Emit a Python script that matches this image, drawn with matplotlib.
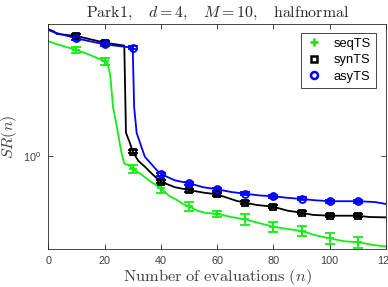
import matplotlib
matplotlib.use("Agg")
import matplotlib.pyplot as plt
import numpy as np
from matplotlib.lines import Line2D
from matplotlib.ticker import FixedLocator, NullLocator

# data (SR(n) vs number of evaluations)
seq_x = [0, 3, 10, 14, 20, 21, 22, 23, 24, 25, 26, 27, 28.5, 30, 33, 36, 40, 43,
         45.5, 48, 50, 53, 56, 60, 65, 70, 75, 80, 85, 90, 95, 100, 105, 110, 115, 120]
seq_y = [6.4, 6.1, 5.55, 5.2, 4.64, 4.5, 3.7, 2.2, 1.75, 1.35, 1.05, 0.88, 0.86, 0.806,
         0.74, 0.665, 0.59, 0.52, 0.49, 0.455, 0.44, 0.41, 0.395, 0.39, 0.37, 0.356,
         0.335, 0.316, 0.305, 0.295, 0.275, 0.262, 0.25, 0.246, 0.236, 0.229]

syn_x = [0, 2, 3, 10, 20, 27, 27.6, 29, 30, 32, 34.3, 37, 40, 45, 50, 55, 60, 67, 70,
         74, 80, 85, 90, 94, 100, 110, 114, 120]
syn_y = [7.77, 7.5, 7.2, 6.97, 6.25, 5.96, 1.45, 1.23, 1.067, 0.92, 0.837, 0.74, 0.656,
         0.6, 0.573, 0.55, 0.534, 0.48, 0.467, 0.45, 0.437, 0.41, 0.397, 0.383, 0.378,
         0.378, 0.37, 0.368]

asy_x = [0, 2, 10, 20, 30, 30.5, 31.4, 34.3, 38.5, 40, 45, 50, 55, 60, 65, 70, 75, 80,
         85, 90, 95, 100, 110, 116, 120]
asy_y = [7.68, 7.4, 6.7, 6.08, 5.76, 2.2, 1.445, 0.984, 0.793, 0.743, 0.67, 0.64, 0.6,
         0.58, 0.555, 0.54, 0.525, 0.518, 0.505, 0.496, 0.485, 0.478, 0.478, 0.472, 0.457]

mark_x = [10, 20, 30, 40, 50, 60, 70, 80, 90, 100, 110]
seq_err = [0.23, 0.255, 0.05, 0.04, 0.031, 0.021, 0.03, 0.025, 0.023, 0.024, 0.021]
syn_err = [0.17, 0.15, 0.03, 0.016, 0.014, 0.013, 0.011, 0.01, 0.01, 0.009, 0.009]
asy_err = [0.16, 0.14, 0.13, 0.018, 0.016, 0.014, 0.013, 0.012, 0.012, 0.011, 0.011]

plt.rcParams["mathtext.fontset"] = "cm"
plt.rcParams["font.family"] = ["Liberation Sans", "DejaVu Sans"]

fig = plt.figure(figsize=(3.88, 2.87), dpi=100)
ax = fig.add_axes([48.3 / 388, 1 - 249 / 287, (386 - 48.3) / 388, 225 / 287])

series = [
    (seq_x, seq_y, seq_err, "#11ee11", "+", "seqTS"),
    (syn_x, syn_y, syn_err, "black", "s", "synTS"),
    (asy_x, asy_y, asy_err, "#0000ff", "o", "asyTS"),
]
handles = []
for xs, ys, err, col, mk, lab in series:
    xs = np.array(xs)
    ys = np.array(ys)
    ax.plot(xs, ys, "-", color=col, lw=1.3)
    sel = np.isin(xs, mark_x)
    ax.errorbar(xs[sel], ys[sel], yerr=err, fmt=mk, color=col, mfc="none",
                ms=5 if mk != "+" else 6, mew=1.3, elinewidth=1.1, capsize=3.5,
                capthick=1.1)
    handles.append(Line2D([], [], ls="none", marker=mk, color=col, mfc="none",
                          ms=6 if mk == "+" else 5, mew=2 if mk == "+" else 1.8,
                          label=lab))

ax.set_yscale("log")
ax.set_xlim(0, 120)
ax.set_ylim(0.2203, 8.46)
ax.set_xticks([0, 20, 40, 60, 80, 100, 120])
ax.yaxis.set_major_locator(FixedLocator([1.0]))
ax.yaxis.set_minor_locator(NullLocator())

ax.tick_params(which="both", direction="in", top=True, right=True, length=3.5,
               width=0.6, colors="#262626", labelsize=7.8, pad=5)
ax.tick_params(labelcolor="#404040")
for sp in ax.spines.values():
    sp.set_color("#262626")
    sp.set_linewidth(0.6)

ax.set_title(r"$\mathrm{Park1,}\quad d = 4,\quad M = 10,\quad \mathrm{halfnormal}$",
             fontsize=11.4, color="#262626", pad=5)
ax.set_xlabel(r"$\mathrm{Number\ of\ evaluations}\ (n)$", fontsize=11.8,
              color="#404040", labelpad=0.5)
ax.set_ylabel(r"$SR(n)$", fontsize=11.5, color="#404040", labelpad=3)

leg = ax.legend(handles=handles, loc="upper right", bbox_to_anchor=(0.97, 0.962),
                borderaxespad=0, fontsize=9.3, fancybox=False, framealpha=1,
                edgecolor="#262626", handlelength=1.2, handletextpad=0.9,
                borderpad=0.4, labelspacing=0.35)
leg.get_frame().set_linewidth(0.6)

fig.savefig("out.png", dpi=100)
